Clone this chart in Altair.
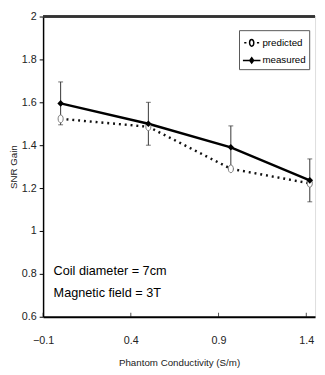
import altair as alt
import pandas as pd

conductivity = [0.0, 0.5, 0.97, 1.42]
measured = [1.595, 1.50, 1.39, 1.236]
measured_err = [0.10, 0.10, 0.10, 0.10]
predicted = [1.523, 1.486, 1.29, 1.222]
series_names = ["predicted", "measured"]
x_ticks = [-0.1, 0.4, 0.9, 1.4]
y_ticks = [0.6, 0.8, 1.0, 1.2, 1.4, 1.6, 1.8, 2.0]
notes = ["Coil diameter = 7cm", "Magnetic field = 3T"]
note_y = [0.795, 0.691]

FONT = "Liberation Sans Narrow, Liberation Sans, Arial"

rows = []
for c, v in zip(conductivity, predicted):
    rows.append({"cond": c, "value": v, "series": "predicted", "lo": None, "hi": None})
for c, v, e in zip(conductivity, measured, measured_err):
    rows.append({"cond": c, "value": v, "series": "measured", "lo": v - e, "hi": v + e})
df = pd.DataFrame(rows)
meas_df = df[df.series == "measured"]
pred_df = df[df.series == "predicted"]
notes_df = pd.DataFrame({"text": notes, "y": note_y, "x": [-0.04, -0.04]})
ticks_df = pd.DataFrame({"t": x_ticks})

xs = alt.Scale(domain=[-0.1, 1.45], nice=False, zero=False)
ys = alt.Scale(domain=[0.6, 2.0], nice=False, zero=False)

xax = alt.Axis(values=x_ticks, title="Phantom Conductivity (S/m)", grid=False,
               tickSize=0, labelPadding=18, domainColor="black", domainWidth=2,
               labelFont=FONT, labelFontSize=11, labelColor="#222",
               titleFont=FONT, titleFontSize=10, titleFontWeight="normal", titleColor="#222",
               titleBaseline="top", titleY=42, labelFlush=False)
yax = alt.Axis(values=y_ticks, format="~g", title="SNR Gain", grid=False, tickSize=4, tickColor="black",
               labelPadding=3, domainColor="black", domainWidth=1.5,
               labelFont=FONT, labelFontSize=11, labelColor="#222",
               titleFont=FONT, titleFontSize=10, titleFontWeight="normal", titleColor="#222",
               titleX=-25, labelFlush=False)

meas_line = alt.Chart(meas_df).mark_line(strokeWidth=2.5, color="black", clip=False).encode(
    x=alt.X("cond:Q", scale=xs, axis=xax),
    y=alt.Y("value:Q", scale=ys, axis=yax),
)
pred_line = alt.Chart(pred_df).mark_line(strokeWidth=2.5, color="#111", strokeDash=[2, 4],
                                         clip=False).encode(x="cond:Q", y="value:Q")

err = alt.Chart(meas_df).mark_rule(color="#333", strokeWidth=1, clip=False).encode(
    x="cond:Q", y="lo:Q", y2="hi:Q")
cap_lo = alt.Chart(meas_df).mark_tick(color="#333", thickness=1, size=5, orient="horizontal", clip=False).encode(
    x="cond:Q", y="lo:Q")
cap_hi = alt.Chart(meas_df).mark_tick(color="#333", thickness=1, size=5, orient="horizontal", clip=False).encode(
    x="cond:Q", y="hi:Q")

ellipse = "M0,-1 A0.65,1 0 1,1 0,1 A0.65,1 0 1,1 0,-1 Z"
pred_pts = alt.Chart(pred_df).mark_point(shape=ellipse, size=64, filled=True, fill="white",
                                         stroke="#777", strokeWidth=1, opacity=1, clip=False).encode(
    x="cond:Q", y="value:Q")
meas_pts = alt.Chart(meas_df).mark_point(shape="diamond", size=45, filled=True, color="black",
                                         opacity=1, clip=False).encode(
    x="cond:Q", y="value:Q")

leg_pred = ("M-0.85,0H-0.6 M0.6,0H0.85 "
            "M0,-0.38 A0.24,0.38 0 1,1 0,0.38 A0.24,0.38 0 1,1 0,-0.38 Z")
leg_meas = "M-1,0H1 M0,-0.3 L0.22,0 L0,0.3 L-0.22,0 Z"
legend_layer = alt.Chart(df).transform_filter("false").mark_point(
    filled=True, stroke="black", strokeWidth=1.5, opacity=1).encode(
    x="cond:Q", y="value:Q",
    shape=alt.Shape("series:N", scale=alt.Scale(domain=series_names, range=[leg_pred, leg_meas]),
                    legend=alt.Legend(title=None, orient="none", legendX=201, legendY=14,
                                      symbolSize=324, symbolStrokeWidth=1.5,
                                      padding=3, rowPadding=1, labelOffset=1,
                                      labelFont=FONT, labelFontSize=10, labelColor="black",
                                      strokeColor="#555", fillColor="white", cornerRadius=0)),
    fill=alt.Fill("series:N", scale=alt.Scale(domain=series_names, range=["white", "black"])),
)

xticks_in = alt.Chart(ticks_df).mark_tick(orient="vertical", size=4, thickness=1, color="black",
                                          yOffset=-2).encode(
    x="t:Q", y=alt.datum(0.6))

top_line = alt.Chart(ticks_df).mark_rule(color="#333", strokeWidth=2).encode(y=alt.datum(2.0))

texts = alt.Chart(notes_df).mark_text(align="left", baseline="alphabetic", font=FONT,
                                      fontSize=13, color="black").encode(
    x="x:Q", y="y:Q", text="text:N")

chart = alt.layer(
    meas_line, pred_line, err, cap_lo, cap_hi, legend_layer, pred_pts, meas_pts, xticks_in, top_line, texts
).properties(
    width=279, height=308,
    autosize=alt.AutoSizeParams(type="none"),
    padding={"left": 36, "top": 4, "right": 2, "bottom": 55},
).configure_view(stroke=None).configure(background="white")

chart.save("out.html", embed_options={"renderer": "svg", "actions": False})
